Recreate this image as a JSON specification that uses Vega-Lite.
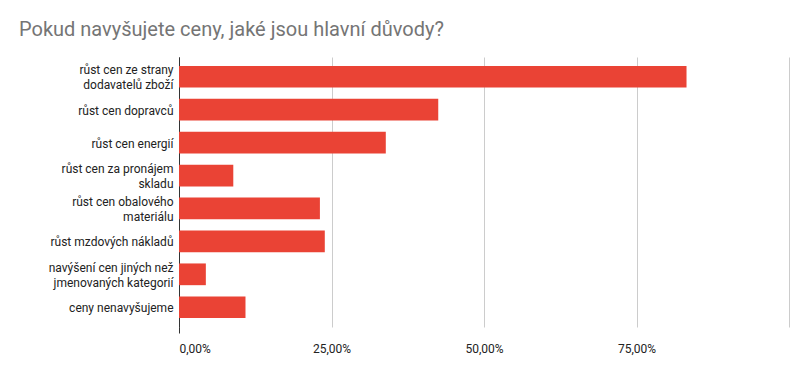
{
  "$schema": "https://vega.github.io/schema/vega-lite/v6.json",
  "width": 610,
  "height": 270,
  "autosize": {"type": "none"},
  "padding": {"left": 179, "top": 57, "right": 19, "bottom": 44},
  "background": "white",
  "title": {
    "text": "Pokud navyšujete ceny, jaké jsou hlavní důvody?",
    "anchor": "start",
    "frame": "group",
    "dx": -160,
    "offset": 17,
    "font": "Roboto",
    "fontSize": 20,
    "fontWeight": "normal",
    "color": "#757575"
  },
  "data": {
    "values": [
      {"duvod": "růst cen ze strany|dodavatelů zboží", "podil": 0.832, "poradi": 1},
      {"duvod": "růst cen dopravců", "podil": 0.425, "poradi": 2},
      {"duvod": "růst cen energií", "podil": 0.339, "poradi": 3},
      {"duvod": "růst cen za pronájem|skladu", "podil": 0.089, "poradi": 4},
      {"duvod": "růst cen obalového|materiálu", "podil": 0.231, "poradi": 5},
      {"duvod": "růst mzdových nákladů", "podil": 0.239, "poradi": 6},
      {"duvod": "navýšení cen jiných než|jmenovaných kategorií", "podil": 0.044, "poradi": 7},
      {"duvod": "ceny nenavyšujeme", "podil": 0.109, "poradi": 8}
    ]
  },
  "mark": {"type": "bar", "color": "#ea4335"},
  "encoding": {
    "y": {
      "field": "duvod",
      "type": "nominal",
      "sort": {"field": "poradi"},
      "scale": {"paddingInner": 0.34, "paddingOuter": 0.27},
      "axis": {
        "title": null,
        "labelExpr": "split(datum.label, '|')",
        "labelFont": "Roboto",
        "labelFontSize": 12,
        "labelColor": "#222222",
        "labelLineHeight": 15,
        "labelPadding": 6,
        "labelOffset": {"condition": {"test": "indexof(datum.value, '|') >= 0", "value": -6.5}, "value": 1},
        "ticks": false,
        "domain": true,
        "domainColor": "#333333",
        "domainWidth": 1,
        "labelLimit": 200
      }
    },
    "x": {
      "field": "podil",
      "type": "quantitative",
      "scale": {"domain": [0, 1], "nice": false},
      "axis": {
        "title": null,
        "values": [0, 0.25, 0.5, 0.75, 1],
        "labelExpr": "datum.value >= 1 ? '' : replace(format(datum.value, '.2%'), '.', ',')",
        "labelFont": "Roboto",
        "labelFontSize": 12,
        "labelColor": "#222222",
        "labelPadding": 10,
        "domain": false,
        "grid": true,
        "gridColor": {"condition": {"test": "datum.value == 0", "value": "#333333"}, "value": "#cccccc"},
        "ticks": true,
        "tickSize": 6,
        "tickColor": {"condition": {"test": "datum.value == 0", "value": "#333333"}, "value": "transparent"}
      }
    }
  },
  "config": {"view": {"stroke": null}}
}
